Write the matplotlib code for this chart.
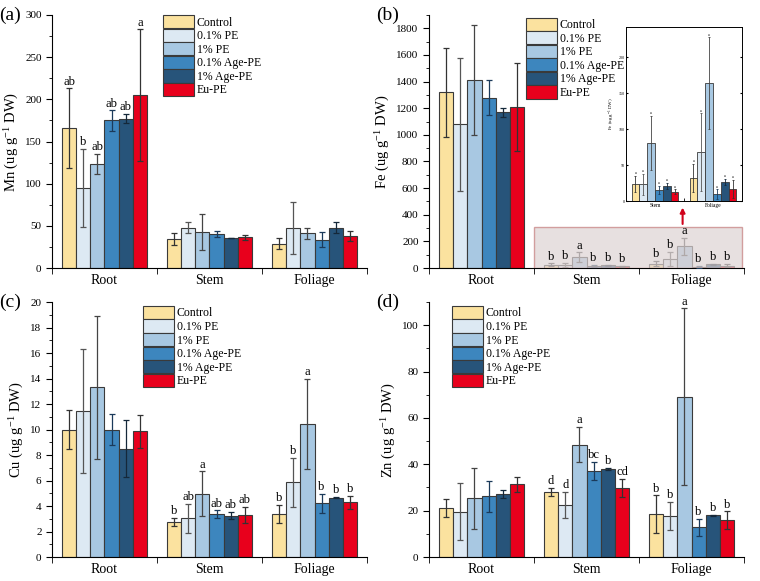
import numpy as np
import matplotlib.pyplot as plt
from matplotlib.patches import Rectangle
from matplotlib.ticker import MultipleLocator, FixedLocator

plt.rcParams['font.family'] = ['Liberation Serif', 'DejaVu Serif']
plt.rcParams['mathtext.default'] = 'regular'

tissues = ['Root', 'Stem', 'Foliage']
treatments = ['Control', '0.1% PE', '1% PE', '0.1% Age-PE', '1% Age-PE', 'Eu-PE']
colors = ['#FBE29F', '#DDE9F3', '#A8C8E2', '#3D86BE', '#27547A', '#E8001C']
err_colors = ['#333333', '#555555', '#444444', '#1B3A5A', '#15283A', '#333333']

# rows = treatment, columns = Root, Stem, Foliage
mn = [[166, 34.5, 29], [95, 48, 47.5], [123, 42.5, 41], [175, 40, 33.5], [177, 35.6, 48], [205, 36.4, 38.3]]
mn_err = [[47, 7, 6.5], [46, 7, 31], [12, 21.5, 6.5], [12, 3.6, 9], [5.5, 0.5, 6.5], [78, 2.7, 5.8]]
mn_let = [['ab', '', ''], ['b', '', ''], ['ab', '', ''], ['ab', '', ''], ['ab', '', ''], ['a', '', '']]

fe = [[1318, 24, 32], [1078, 23.5, 68], [1413, 81, 164], [1278, 15.3, 9.7], [1168, 21, 26.5], [1210, 13, 16.7]]
fe_err = [[334, 11, 19.5], [500, 14.5, 54], [415, 37.5, 63.5], [132, 6, 6.5], [35, 4, 4], [333, 3.2, 12.6]]
fe_let = [['', 'b', 'b'], ['', 'b', 'b'], ['', 'a', 'a'], ['', 'b', 'b'], ['', 'b', 'b'], ['', 'b', 'b']]

cu = [[10.0, 2.75, 3.4], [11.45, 3.05, 5.85], [13.3, 4.95, 10.45], [10.0, 3.35, 4.22], [8.5, 3.25, 4.65], [9.85, 3.3, 4.28]]
cu_err = [[1.5, 0.3, 0.7], [4.9, 1.13, 1.95], [5.6, 1.77, 3.55], [1.25, 0.3, 0.76], [2.25, 0.3, 0.06], [1.3, 0.63, 0.5]]
cu_let = [['', 'b', 'b'], ['', 'ab', 'b'], ['', 'a', 'a'], ['', 'ab', 'b'], ['', 'ab', 'b'], ['', 'ab', 'b']]

zn = [[21.2, 28, 18.4], [19.6, 22.6, 17.7], [25.3, 48.5, 69.2], [26.2, 37.1, 12.9], [27.2, 38.1, 18], [31.3, 29.7, 15.8]]
zn_err = [[3.8, 1.9, 8.2], [12.4, 5.6, 6.1], [13.2, 7.6, 38], [6.8, 4, 3.7], [1.6, 0.4, 0.3], [3.3, 4, 3.9]]
zn_let = [['', 'd', 'b'], ['', 'd', 'b'], ['', 'a', 'a'], ['', 'bc', 'b'], ['', 'b', 'b'], ['', 'cd', 'b']]

W = 0.135


def bars(ax, vals, errs, lets, cats, fs=9, lw=0.8, cap=2, ew=0.9, lab=True):
    x = np.arange(len(cats))
    for i in range(6):
        xs = x + (i - 2.5) * W
        v = np.array(vals[i])
        e = np.array(errs[i])
        ax.bar(xs, v, W, color=colors[i], edgecolor='#3a3a3a', linewidth=lw,
               label=treatments[i] if lab else None, zorder=2)
        ax.errorbar(xs, v, yerr=e, fmt='none', ecolor=err_colors[i], elinewidth=ew,
                    capsize=cap, capthick=ew, zorder=3)
        for j in range(len(cats)):
            if lets[i][j]:
                ax.annotate(lets[i][j], (xs[j], v[j] + e[j]), xytext=(0, 0.5),
                            textcoords='offset points', ha='center', va='bottom',
                            fontsize=fs, zorder=4)


def style(ax, ymax, major, ylabel, tag, leg_xy):
    ax.set_xlim(-0.5, 2.5)
    ax.set_ylim(0, ymax)
    ax.spines['top'].set_visible(False)
    ax.spines['right'].set_visible(False)
    ax.set_xticks(range(3))
    ax.set_xticklabels(tissues, fontsize=10)
    ax.tick_params(axis='x', length=0, pad=4)
    ax.xaxis.set_minor_locator(FixedLocator([-0.5, 0.5, 1.5, 2.5]))
    ax.tick_params(axis='x', which='minor', length=4, direction='out')
    ax.yaxis.set_major_locator(MultipleLocator(major))
    ax.yaxis.set_minor_locator(MultipleLocator(major / 2))
    ax.tick_params(axis='y', which='major', length=4, labelsize=8)
    ax.tick_params(axis='y', which='minor', length=2)
    ax.set_ylabel(ylabel, fontsize=10.5, labelpad=3)
    ax.text(-0.168, 1.0, tag, transform=ax.transAxes, fontsize=14, va='center', ha='left')
    ax.legend(loc='upper left', bbox_to_anchor=leg_xy, frameon=False, fontsize=8.5,
              handlelength=2.6, handleheight=1.35, labelspacing=0.0,
              handletextpad=0.25, borderpad=0, borderaxespad=0)


fig = plt.figure(figsize=(7.6, 5.81), dpi=100)
axa = fig.add_axes([0.0684, 0.5387, 0.4145, 0.4355])
axb = fig.add_axes([0.5645, 0.5387, 0.4145, 0.4355])
axc = fig.add_axes([0.0684, 0.0413, 0.4145, 0.4389])
axd = fig.add_axes([0.5645, 0.0413, 0.4145, 0.4389])

bars(axa, mn, mn_err, mn_let, tissues)
style(axa, 300, 50, 'Mn (ug g$^{-1}$ DW)', '(a)', (0.352, 1.0))

bars(axb, fe, fe_err, fe_let, tissues)
style(axb, 1900, 200, 'Fe (ug g$^{-1}$ DW)', '(b)', (0.308, 0.99))
axb.add_patch(Rectangle((0.495, 0), 1.99, 310, facecolor='#DDD3D3', alpha=0.7,
                        edgecolor='#C47C7C', linewidth=1.0, zorder=3.5))
axb.annotate('', xy=(1.915, 475), xytext=(1.915, 310),
             arrowprops=dict(arrowstyle='-|>', color='#D0021B', lw=1.5, mutation_scale=7))

bars(axc, cu, cu_err, cu_let, tissues)
style(axc, 20, 2, 'Cu (ug g$^{-1}$ DW)', '(c)', (0.289, 0.985))

bars(axd, zn, zn_err, zn_let, tissues)
style(axd, 110, 20, 'Zn (ug g$^{-1}$ DW)', '(d)', (0.073, 0.985))

# inset with stem and foliage Fe
axi = fig.add_axes([0.8237, 0.654, 0.1526, 0.2995])
fe_sf = [row[1:] for row in fe]
fe_sf_err = [row[1:] for row in fe_err]
ins_let = [['a', 'a'] for _ in range(6)]
bars(axi, fe_sf, fe_sf_err, ins_let, tissues[1:], fs=3, lw=0.6, cap=1, ew=0.6, lab=False)
axi.set_xlim(-0.5, 1.5)
axi.set_ylim(0, 242)
axi.set_xticks([0, 1])
axi.set_xticklabels(tissues[1:], fontsize=4)
axi.tick_params(axis='x', length=0, pad=1.5)
axi.xaxis.set_minor_locator(FixedLocator([0.5]))
axi.tick_params(axis='x', which='minor', length=2, direction='in')
axi.yaxis.set_major_locator(MultipleLocator(50))
axi.tick_params(axis='y', labelsize=3, length=1.5, direction='in', right=True, pad=1)
axi.set_ylabel('Fe (ug g$^{-1}$ DW)', fontsize=3.5, labelpad=1)
for s in axi.spines.values():
    s.set_linewidth(0.7)

fig.savefig('out.png', dpi=100)
